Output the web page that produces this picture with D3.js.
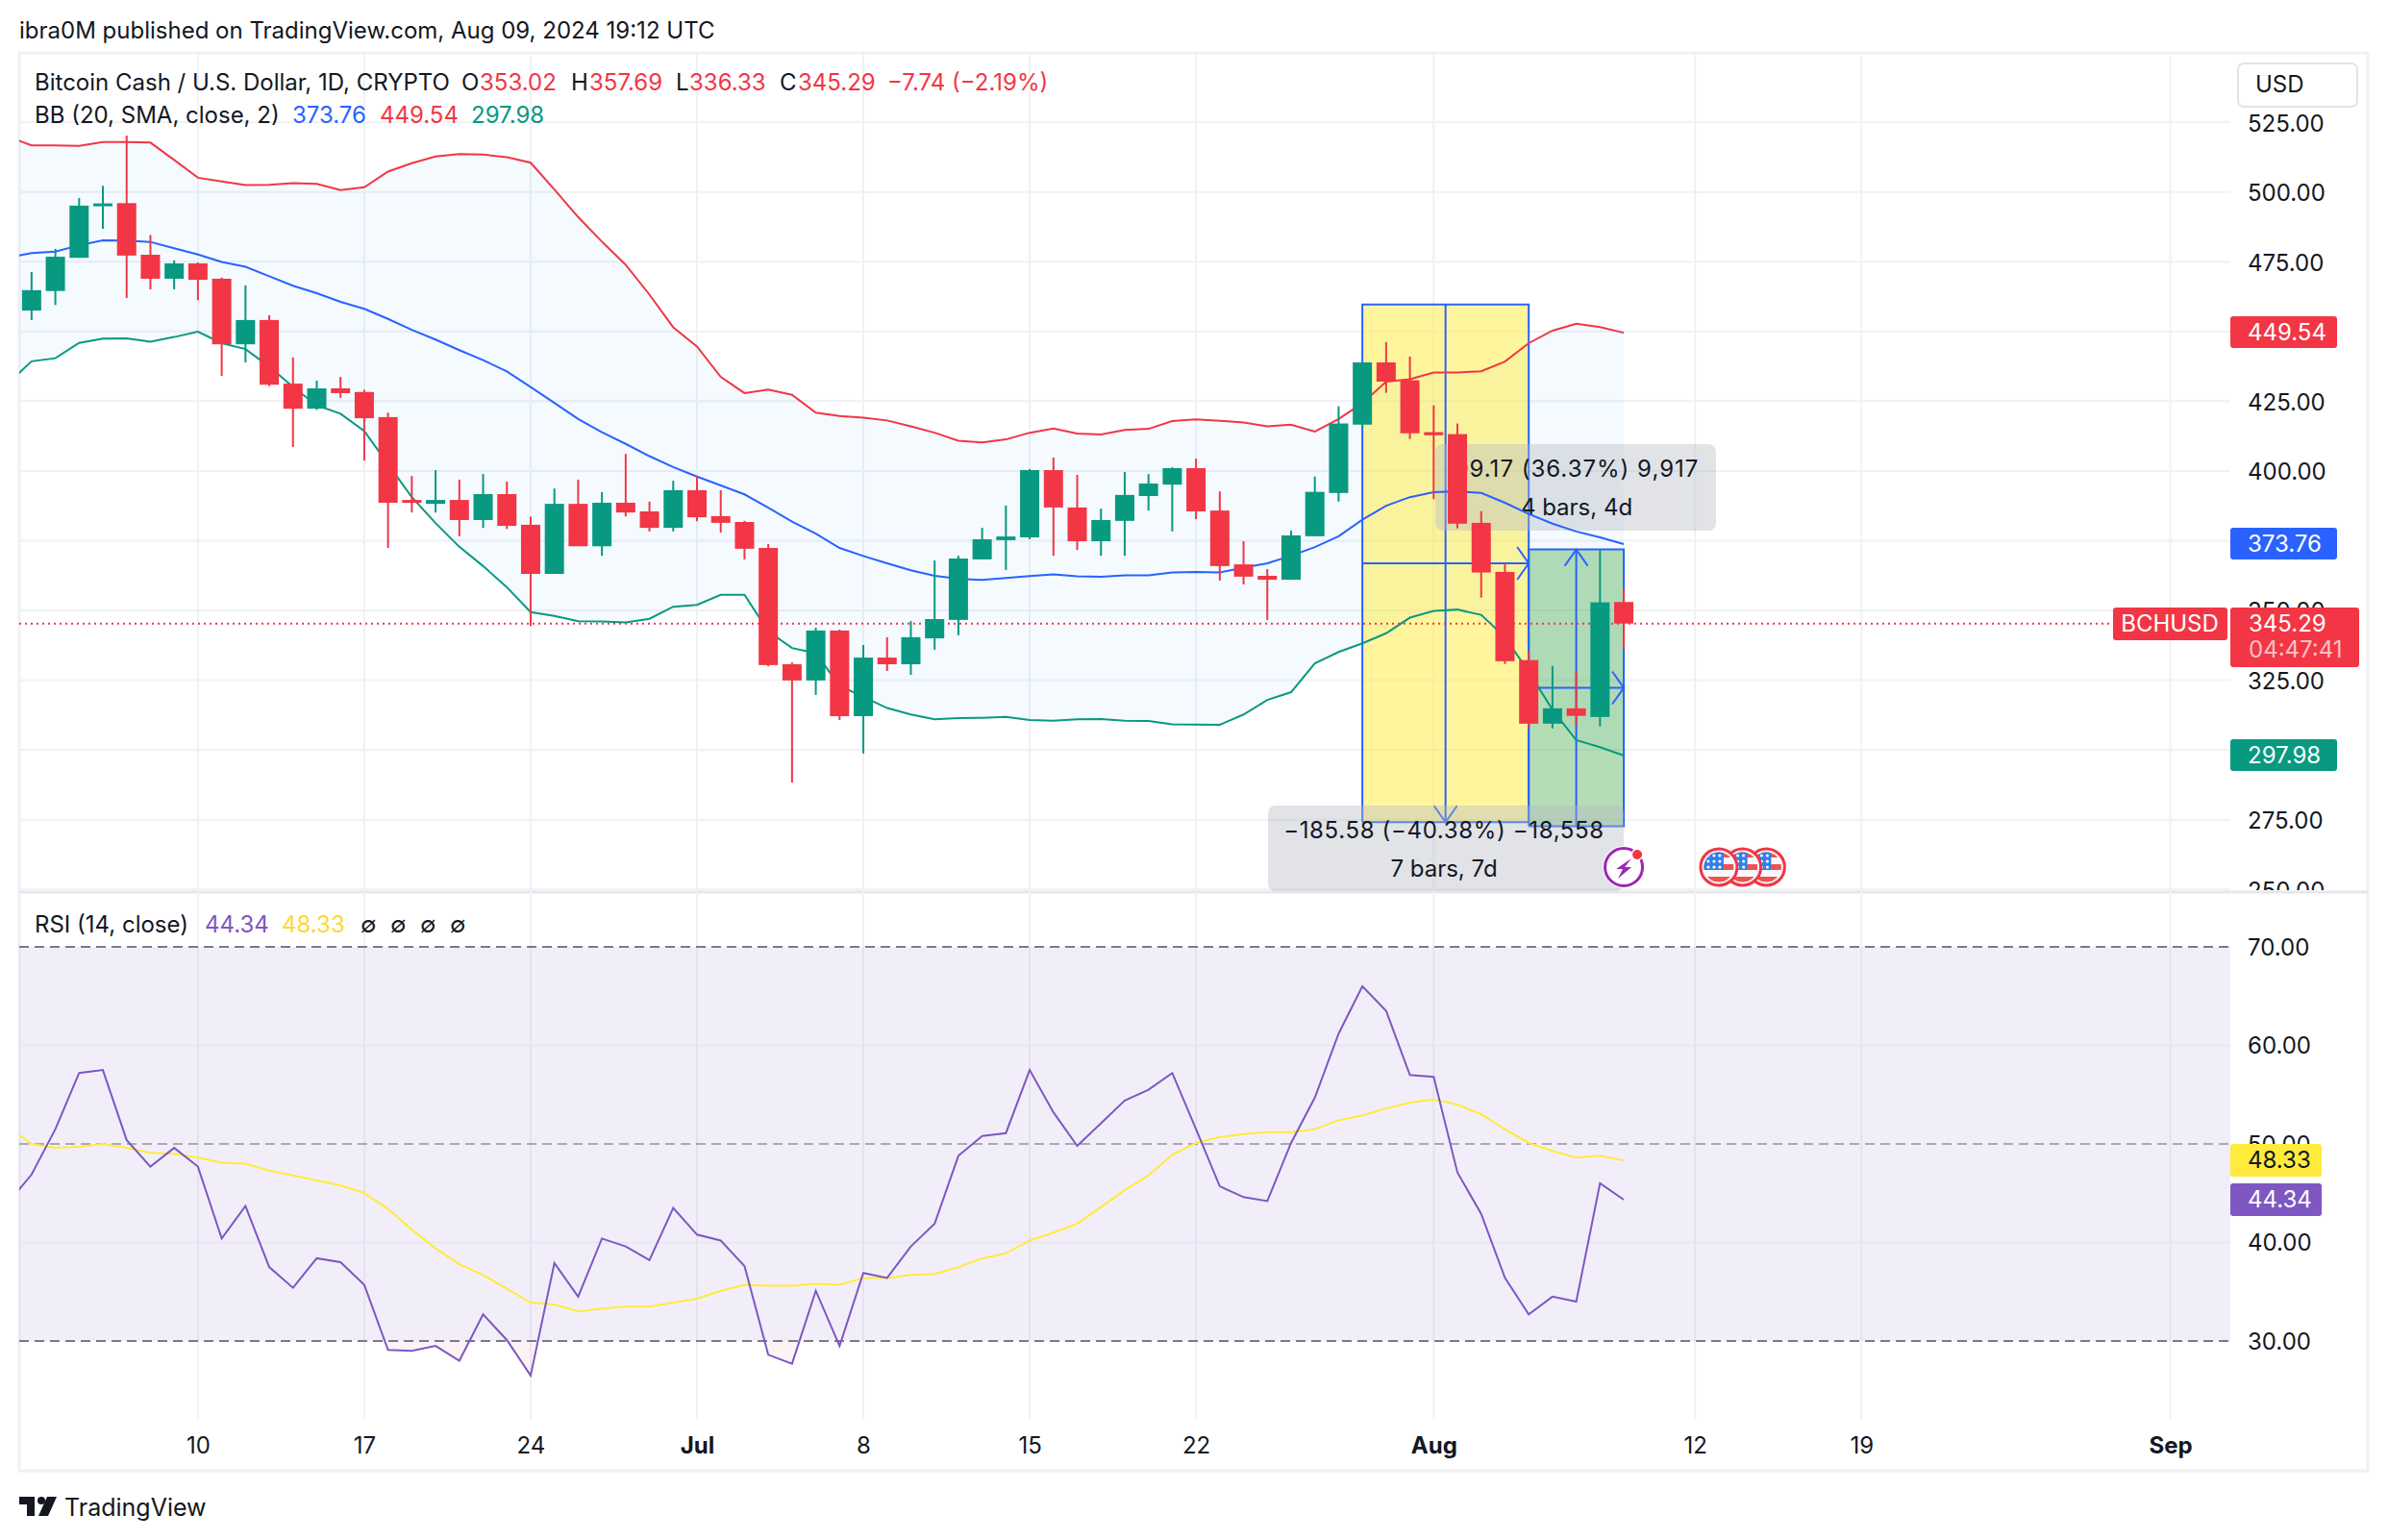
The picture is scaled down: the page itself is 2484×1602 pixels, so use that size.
<!DOCTYPE html>
<html>
<head>
<meta charset="utf-8">
<title>BCHUSD</title>
<script src="https://cdn.jsdelivr.net/npm/d3@7"></script>
<style>
  html, body { margin: 0; background: #fff; }
  svg { display: block; }
  text { font-family: Inter, Roboto, sans-serif; font-size: 24px; fill: #131722; }
</style>
</head>
<body>
<div id="chart"></div>
<script>
// candles, Jun 3 to Aug 9
const opens = [457.5,464.5,476.4,494.9,496,477.5,468.9,474.4,468.9,445.4,454.1,431.3,422.3,429.6,428.3,419.3,389.6,388.2,389.6,382.4,391.7,380.7,363.1,388.2,373,388.6,385.5,379.6,393.1,383.8,381.7,372.4,330.7,324.9,342.8,312.1,333.1,330.7,340,346.6,368.3,375.2,376.2,400.3,386.9,374.8,382.1,391,395.1,401,385.8,366.5,362.4,361,376.6,392.1,416.6,438.9,432.5,413.9,413.2,381.4,363.8,332.2,309.4,314.9,311.8,353.02];
const closes = [464.8,476.8,495.1,495.9,477.2,468.9,474.4,468.5,445.4,454.1,430.9,422.3,429.6,427.9,418.9,388.6,389,389.6,382.4,391.7,380.3,363.1,388.2,373,388.6,385.1,379.6,393.1,383.4,381.4,372.1,330.4,324.9,342.8,312.1,333.1,330.7,340.4,346.9,368.6,375.5,376.5,400.3,386.9,374.8,382.4,391.4,395.5,401,385.5,365.9,362.1,361,376.9,392.5,417,438.9,432,413.5,412.8,381.1,363.6,331.8,309.4,314.9,312.2,352.9,345.29];
const highs = [471.3,479.6,497.8,502.2,520.2,484.6,475.5,474.7,469.3,466.5,455.8,440.7,432.4,433.7,429.1,420.9,398.2,400.3,396.9,398.9,396.2,383.6,393.7,396.9,392.4,406.1,389,396.5,398.2,393.1,382.1,373.8,331.4,343.8,343.1,337.6,340.4,346.2,367.9,369.6,379.6,387.6,400.7,404.8,398.6,386.5,399.6,398.9,401.3,404.4,392.7,374.8,364.8,378.6,398,423.2,438.9,446.2,441,423.5,417,385.6,366.7,335.3,330.1,328,371.6,357.69];
const lows = [454.1,459.5,476.4,486.8,462,465.1,465.1,461.2,434.1,438.9,430.4,408.6,421.9,426.2,403.7,372.4,385.1,385.1,376.6,379.6,379.2,344.4,363.1,373,369.6,383.7,378.3,378.3,382,377.9,368.3,330,288.3,319.7,310.7,298.7,328.3,326.9,335.9,341.1,368.3,364.5,375.5,369.6,371.7,369.6,369.6,385.8,378.3,382.7,360.7,359.3,346.6,361,376.6,389,415.5,428,411.4,389.9,379.4,354.6,330.8,308,307.7,309.1,308.4,336.33];

// indicator lines, Jun 2 to Aug 9
const bbUpper = [519.8,516.7,516.7,516.5,517.9,517.9,517.7,511.5,505.1,503.8,502.5,502.6,503.2,502.9,500.7,501.7,507.3,510.3,512.7,513.6,513.4,512.5,510.5,500.9,491,482.2,473.9,463.2,451.5,444.6,433.7,427.9,429.2,427.3,420.9,419.7,419.1,418.1,416,413.7,410.8,410.2,411.3,413.7,415.2,413.4,413.1,414.7,415.1,417.9,418.5,418,417.4,416,416.6,414.1,418.6,424.3,432,432.9,435.3,435.3,435.7,439.2,445.8,450.3,452.8,451.6,449.54];
const bbBasis = [476.5,478.1,478.6,480.9,482.7,482.6,482.1,479.8,477.6,474.9,473.2,469.8,466.4,463.7,460.6,458.1,454.5,450.6,447.1,443.3,439.7,435.7,430.1,424.4,418.6,413.9,409.7,405.3,401.4,398,394.8,391.6,386.8,381.8,377.5,372.4,369.5,366.9,364.4,362.4,361.4,360.9,361.6,362.3,362.9,362.2,362.1,362.6,362.6,363.6,363.8,363.6,365.3,366.9,369.6,372.7,376.6,382.5,387.5,390.6,392.4,392.7,392.1,388.6,384.6,381.1,378.3,376.2,373.76];
const bbLower = [431.4,439.3,440.4,445.9,447.4,447.5,446.3,448,449.9,445.8,443.7,437.4,430.1,423.5,420.5,414.3,402.4,390.6,381.3,372.8,365.9,358.3,349.4,348,346.1,346,345.7,347,351.3,352,355.6,355.6,342.5,336.5,334.7,323,319,315,312.7,311,311.4,311.5,311.8,310.7,310.5,311,311.1,310.5,310.4,309.2,309.1,309,312.7,317.9,320.7,331,335.1,338.2,341.8,347.4,349.8,350.3,348.4,340.4,328,314.4,303.5,301,297.98];
const rsi = [44,46.9,51.5,57.2,57.5,50.4,47.7,49.6,47.7,40.4,43.7,37.5,35.4,38.4,38,35.7,29.1,29,29.5,28,32.7,30.1,26.5,37.9,34.5,40.4,39.6,38.2,43.5,40.8,40.2,37.6,28.6,27.7,35.1,29.5,36.9,36.4,39.6,41.9,48.8,50.8,51.1,57.5,53.2,49.8,52.1,54.4,55.5,57.2,51.5,45.7,44.6,44.2,50.1,54.7,61.2,66,63.5,57,56.8,47.1,42.9,36.4,32.7,34.5,34,46,44.34];
const rsiMa = [51.8,50,49.6,49.7,50,49.6,49.1,49,48.6,48.1,48,47.3,46.8,46.3,45.8,45,43.4,41.3,39.4,37.8,36.7,35.3,33.9,33.7,33,33.3,33.5,33.5,33.9,34.3,35.1,35.7,35.6,35.6,35.8,35.7,36.4,36.4,36.7,36.8,37.5,38.4,38.9,40.2,41,41.9,43.6,45.3,46.8,48.9,50.1,50.7,51,51.2,51.2,51.5,52.4,52.9,53.6,54.2,54.5,54,53,51.5,50.1,49.3,48.6,48.8,48.33];

const priceTicks = [250,275,300,325,350,375,400,425,450,475,500,525];
const rsiGrid = [60,40];
const rsiDashed = [70,50,30];
const rsiTicks = [30,40,50,60,70];
const timeTicks = ['2024-06-10','2024-06-17','2024-06-24','2024-07-01','2024-07-08','2024-07-15','2024-07-22','2024-08-01','2024-08-12','2024-08-19','2024-09-01'];
const timeLabels = ['10','17','24','Jul','8','15','22','Aug','12','19','Sep'];
const boldLabels = ['Jul','Aug','Sep'];

// the two long/short boxes drawn on the chart
const boxYellow = { from: '2024-07-29', to: '2024-08-05', top: 459.7, bottom: 274.1, mid: '2024-08-01T12:00Z' };
const boxGreen = { from: '2024-08-05', to: '2024-08-09', top: 371.84, bottom: 272.67, mid: '2024-08-07T00:00Z' };
const newsDate = '2024-08-09';
const flagDates = ['2024-08-15','2024-08-14','2024-08-13'];

const RED = '#f23645', GREEN = '#089981', BLUE = '#2962ff', PURPLE = '#7e57c2', YELLOW = '#ffeb3b';
const GRID = '#f0f1f5';

const svg = d3.select('#chart').append('svg').attr('width', 2484).attr('height', 1602);
const defs = svg.append('defs');
defs.append('clipPath').attr('id', 'plotClip').append('rect').attr('x', 20).attr('y', 55).attr('width', 2300).attr('height', 1420);
defs.append('clipPath').attr('id', 'priceClip').append('rect').attr('x', 20).attr('y', 55).attr('width', 2443).attr('height', 871);
defs.append('clipPath').attr('id', 'axisClip').append('rect').attr('x', 0).attr('y', 55).attr('width', 150).attr('height', 871);

const x = d3.scaleUtc().domain([new Date('2024-07-01'), new Date('2024-09-01')]).range([725, 2257.6]);
const yPrice = d3.scaleLinear().domain([250, 500]).range([925.2, 199.7]);
const yRsi = d3.scaleLinear().domain([30, 70]).range([1395, 985]);

const candleDates = d3.utcDay.range(new Date('2024-06-03'), new Date('2024-08-10'));
const lineDates = d3.utcDay.range(new Date('2024-06-02'), new Date('2024-08-10'));
const candles = candleDates.map((d, i) => ({ d, o: opens[i], c: closes[i], h: highs[i], l: lows[i] }));

defs.append('clipPath').attr('id', 'belowClip').append('rect').attr('x', 20).attr('y', yRsi(30)).attr('width', 2300).attr('height', 80);

// frame and dividers
svg.append('rect').attr('x', 20).attr('y', 55).attr('width', 2443).attr('height', 1475)
  .attr('fill', 'none').attr('stroke', '#f0f0f7').attr('stroke-width', 3);
svg.append('line').attr('x1', 20).attr('x2', 2463).attr('y1', 928).attr('y2', 928)
  .attr('stroke', '#e6e7ee').attr('stroke-width', 3);

// grids
const grid = svg.append('g');
grid.selectAll('.v').data(timeTicks).enter().append('line')
  .attr('x1', (d) => x(new Date(d))).attr('x2', (d) => x(new Date(d)))
  .attr('y1', 55).attr('y2', 1476).attr('stroke', GRID).attr('stroke-width', 2);
grid.selectAll('.h').data(priceTicks).enter().append('line')
  .attr('x1', 20).attr('x2', 2320).attr('y1', (d) => yPrice(d)).attr('y2', (d) => yPrice(d))
  .attr('stroke', GRID).attr('stroke-width', 2).attr('clip-path', 'url(#priceClip)');

// bollinger fill
const plot = svg.append('g').attr('clip-path', 'url(#plotClip)');
plot.append('path')
  .datum(lineDates)
  .attr('fill', 'rgba(33,150,243,0.05)')
  .attr('d', d3.area().x((d) => x(d)).y0((d, i) => yPrice(bbLower[i])).y1((d, i) => yPrice(bbUpper[i])));

// long/short tool boxes
function drawBox(box, fill, vDir) {
  const x0 = x(new Date(box.from)), x1 = x(new Date(box.to)), xm = x(new Date(box.mid));
  const yt = yPrice(box.top), yb = yPrice(box.bottom), ym = (yt + yb) / 2;
  const g = plot.append('g').attr('fill', 'none').attr('stroke', BLUE).attr('stroke-width', 2);
  g.append('rect').attr('x', x0).attr('y', yt).attr('width', x1 - x0).attr('height', yb - yt).attr('fill', fill).attr('stroke', 'none');
  g.append('path').attr('d', `M${x0},${yb}V${yt}H${x1}V${yb}H${x0}`);
  g.append('path').attr('d', `M${x0},${ym}H${x1}M${x1 - 12},${ym - 17}L${x1},${ym}L${x1 - 12},${ym + 17}`);
  const tip = vDir > 0 ? yb : yt;
  g.append('path').attr('d', `M${xm},${yt}V${yb}M${xm - 12},${tip - vDir * 17}L${xm},${tip}L${xm + 12},${tip - vDir * 17}`);
}
drawBox(boxYellow, 'rgba(255,235,59,0.5)', 1);
drawBox(boxGreen, 'rgba(76,175,80,0.42)', -1);

// measure labels
function drawLabel(x0, y0, w, h, line1, line2, tx, spacing) {
  plot.append('rect').attr('x', x0).attr('y', y0).attr('width', w).attr('height', h).attr('rx', 8)
    .attr('fill', 'rgba(180,184,196,0.4)');
  plot.append('text').attr('x', tx).attr('y', y0 + 26).attr('dy', '.35em').attr('text-anchor', 'middle')
    .style('letter-spacing', spacing).text(line1);
  plot.append('text').attr('x', tx).attr('y', y0 + 66).attr('dy', '.35em').attr('text-anchor', 'middle').text(line2);
}
drawLabel(1493, 462, 292, 90, '99.17 (36.37%) 9,917', '4 bars, 4d', 1640, '1px');
drawLabel(1319, 838, 370, 89, '\u2212185.58 (\u221240.38%) \u221218,558', '7 bars, 7d', 1502, '0.65px');

// bollinger lines
const bbLine = d3.line().x((d, i) => x(lineDates[i])).y((d) => yPrice(d));
[[bbUpper, RED], [bbBasis, BLUE], [bbLower, GREEN]].forEach(([values, color]) => {
  plot.append('path').datum(values).attr('fill', 'none').attr('stroke', color).attr('stroke-width', 2).attr('d', bbLine);
});

// last price line
plot.append('line').attr('x1', 20).attr('x2', 2198).attr('y1', yPrice(345.29)).attr('y2', yPrice(345.29))
  .attr('stroke', RED).attr('stroke-width', 2).attr('stroke-dasharray', '2 4');

// candles
const bars = svg.append('g').selectAll('g').data(candles).enter().append('g')
  .attr('fill', (d) => (d.c >= d.o ? GREEN : RED)).attr('stroke', (d) => (d.c >= d.o ? GREEN : RED));
bars.append('line').attr('x1', (d) => x(d.d)).attr('x2', (d) => x(d.d))
  .attr('y1', (d) => yPrice(d.h)).attr('y2', (d) => yPrice(d.l)).attr('stroke-width', 2);
bars.append('rect').attr('stroke', 'none')
  .attr('x', (d) => x(d.d) - 10).attr('width', 20)
  .attr('y', (d) => yPrice(Math.max(d.o, d.c)))
  .attr('height', (d) => Math.max(3, Math.abs(yPrice(d.o) - yPrice(d.c))));

// event icons
const icons = svg.append('g');
const iconY = 902;
const nx = x(new Date(newsDate));
icons.append('circle').attr('cx', nx).attr('cy', iconY).attr('r', 22).attr('fill', '#fff');
icons.append('circle').attr('cx', nx).attr('cy', iconY).attr('r', 19.5).attr('fill', 'none').attr('stroke', '#9c27b0').attr('stroke-width', 3);
icons.append('path').attr('transform', `translate(${nx},${iconY})`).attr('fill', '#9c27b0')
  .attr('d', 'M8,-9L-8,2H-1L-6,12L8,0H1Z');
icons.append('circle').attr('cx', nx + 14).attr('cy', iconY - 13).attr('r', 6.5).attr('fill', '#fff');
icons.append('circle').attr('cx', nx + 14).attr('cy', iconY - 13).attr('r', 5).attr('fill', RED);
flagDates.forEach((date, i) => {
  const fx = x(new Date(date));
  const id = `flag${i}`;
  defs.append('clipPath').attr('id', id).append('circle').attr('cx', fx).attr('cy', iconY).attr('r', 15.5);
  const f = icons.append('g');
  f.append('circle').attr('cx', fx).attr('cy', iconY).attr('r', 20).attr('fill', '#f8f8fd');
  const inner = f.append('g').attr('clip-path', `url(#${id})`);
  inner.append('rect').attr('x', fx - 16).attr('y', iconY - 16).attr('width', 32).attr('height', 6).attr('fill', '#ef5350');
  inner.append('rect').attr('x', fx - 16).attr('y', iconY - 3).attr('width', 32).attr('height', 6).attr('fill', '#ef5350');
  inner.append('rect').attr('x', fx - 16).attr('y', iconY + 10).attr('width', 32).attr('height', 7).attr('fill', '#ef5350');
  inner.append('rect').attr('x', fx - 16).attr('y', iconY - 16).attr('width', 21).attr('height', 19).attr('fill', '#2f80ed');
  [-11, -5, 1].forEach((sx) => [-12, -6, 0].forEach((sy) => {
    inner.append('circle').attr('cx', fx + sx).attr('cy', iconY + sy).attr('r', 1.6).attr('fill', '#fff');
  }));
  f.append('circle').attr('cx', fx).attr('cy', iconY).attr('r', 19).attr('fill', 'none').attr('stroke', RED).attr('stroke-width', 3);
});

// rsi pane
const rsiPane = svg.append('g');
rsiPane.append('rect').attr('x', 20).attr('width', 2300).attr('y', yRsi(70)).attr('height', yRsi(30) - yRsi(70))
  .attr('fill', 'rgba(126,87,194,0.1)');
rsiPane.selectAll('.g').data(rsiGrid).enter().append('line')
  .attr('x1', 20).attr('x2', 2320).attr('y1', (d) => yRsi(d)).attr('y2', (d) => yRsi(d))
  .attr('stroke', '#e8e6f3').attr('stroke-width', 2);
// faint tint where rsi drops under 30
rsiPane.append('path').datum(rsi).attr('clip-path', 'url(#belowClip)')
  .attr('fill', 'rgba(242,54,69,0.06)')
  .attr('d', d3.area().x((d, i) => x(lineDates[i])).y0(yRsi(30)).y1((d) => yRsi(d)));
rsiPane.selectAll('.d').data(rsiDashed).enter().append('line')
  .attr('x1', 20).attr('x2', 2320).attr('y1', (d) => yRsi(d)).attr('y2', (d) => yRsi(d))
  .attr('stroke', '#787b86').attr('stroke-width', 2).attr('stroke-dasharray', '10 6')
  .attr('stroke-opacity', (d) => (d === 50 ? 0.6 : 1));
const rsiLine = d3.line().x((d, i) => x(lineDates[i])).y((d) => yRsi(d));
const rsiLines = svg.append('g').attr('clip-path', 'url(#plotClip)');
rsiLines.append('path').datum(rsiMa).attr('fill', 'none').attr('stroke', YELLOW).attr('stroke-width', 2).attr('d', rsiLine);
rsiLines.append('path').datum(rsi).attr('fill', 'none').attr('stroke', PURPLE).attr('stroke-width', 2).attr('d', rsiLine);

// axes
const priceAxis = svg.append('g').attr('transform', 'translate(2320,0)').attr('clip-path', 'url(#axisClip)')
  .call(d3.axisRight(yPrice).tickValues(priceTicks).tickFormat(d3.format('.2f')).tickSize(0));
const rsiAxis = svg.append('g').attr('transform', 'translate(2320,0)')
  .call(d3.axisRight(yRsi).tickValues(rsiTicks).tickFormat(d3.format('.2f')).tickSize(0));
const timeAxis = svg.append('g').attr('transform', 'translate(0,1476)')
  .call(d3.axisBottom(x).tickValues(timeTicks.map((d) => new Date(d))).tickFormat((d, i) => timeLabels[i]).tickSize(0));
[priceAxis, rsiAxis, timeAxis].forEach((a) => {
  a.select('.domain').remove();
  a.selectAll('text').style('font-family', 'Inter, Roboto, sans-serif').style('font-size', '24px').attr('fill', '#131722');
});
priceAxis.selectAll('text').attr('x', 18).attr('dy', '.37em').attr('text-anchor', 'start');
rsiAxis.selectAll('text').attr('x', 18).attr('dy', '.35em').attr('text-anchor', 'start');
timeAxis.selectAll('text').attr('y', 19).attr('font-weight', (d, i) => (boldLabels.includes(timeLabels[i]) ? 700 : 400));

// value tags on the axes
function tag(x0, y0, w, h, color, label, textColor) {
  svg.append('rect').attr('x', x0).attr('y', y0).attr('width', w).attr('height', h).attr('rx', 3).attr('fill', color);
  svg.append('text').attr('x', x0 + 18).attr('y', y0 + h / 2).attr('dy', '.35em')
    .style('fill', textColor).text(label);
}
tag(2320, 329, 111, 33, RED, '449.54', '#fff');
tag(2320, 549, 111, 33, BLUE, '373.76', '#fff');
tag(2320, 769, 111, 33, GREEN, '297.98', '#fff');
tag(2320, 1190, 95, 34, YELLOW, '48.33', '#131722');
tag(2320, 1231, 95, 34, PURPLE, '44.34', '#fff');
svg.append('rect').attr('x', 2198).attr('y', 632).attr('width', 119).attr('height', 34).attr('rx', 3).attr('fill', RED);
svg.append('text').attr('x', 2257).attr('y', 649).attr('dy', '.35em').attr('text-anchor', 'middle').style('fill', '#fff').text('BCHUSD');
svg.append('rect').attr('x', 2320).attr('y', 632).attr('width', 134).attr('height', 62).attr('rx', 3).attr('fill', RED);
svg.append('text').attr('x', 2339).attr('y', 649).attr('dy', '.35em').style('fill', '#fff').text('345.29');
svg.append('text').attr('x', 2339).attr('y', 676).attr('dy', '.35em').style('fill', '#fff').style('fill-opacity', 0.7).text('04:47:41');

// USD box
svg.append('rect').attr('x', 2328).attr('y', 66).attr('width', 124).attr('height', 45).attr('rx', 6)
  .attr('fill', '#fff').attr('stroke', '#e0e3eb').attr('stroke-width', 2);
svg.append('text').attr('x', 2346).attr('y', 88).attr('dy', '.35em').text('USD');

// legends
function legend(items, y) {
  items.forEach(([tx, str, color]) => {
    svg.append('text').attr('x', tx).attr('y', y).attr('dy', '.35em').style('fill', color).text(str);
  });
}
const INK = '#131722';
legend([[20, 'ibra0M published on TradingView.com, Aug 09, 2024 19:12 UTC', INK]], 32);
legend([
  [36, 'Bitcoin Cash / U.S. Dollar, 1D, CRYPTO', INK], [480, 'O', INK], [499, '353.02', RED],
  [594, 'H', INK], [613, '357.69', RED], [703, 'L', INK], [717, '336.33', RED],
  [811, 'C', INK], [830, '345.29', RED], [923, '\u22127.74 (\u22122.19%)', RED]
], 86);
legend([[36, 'BB (20, SMA, close, 2)', INK], [304, '373.76', BLUE], [395, '449.54', RED], [490, '297.98', GREEN]], 120);
legend([
  [36, 'RSI (14, close)', INK], [213, '44.34', PURPLE], [293, '48.33', '#fdd835'],
  [375, '\u2205', INK], [406, '\u2205', INK], [437, '\u2205', INK], [468, '\u2205', INK]
], 962);

// footer logo
const logo = svg.append('g').attr('transform', 'translate(20,1557)').attr('fill', '#131722');
logo.append('path').attr('d', 'M0,0H16V20H8V8H0Z');
logo.append('circle').attr('cx', 23).attr('cy', 4).attr('r', 4);
logo.append('path').attr('d', 'M29,0H39L30,20H20Z');
svg.append('text').attr('x', 67).attr('y', 1568).attr('dy', '.35em').style('font-size', '25px').text('TradingView');
</script>
</body>
</html>
